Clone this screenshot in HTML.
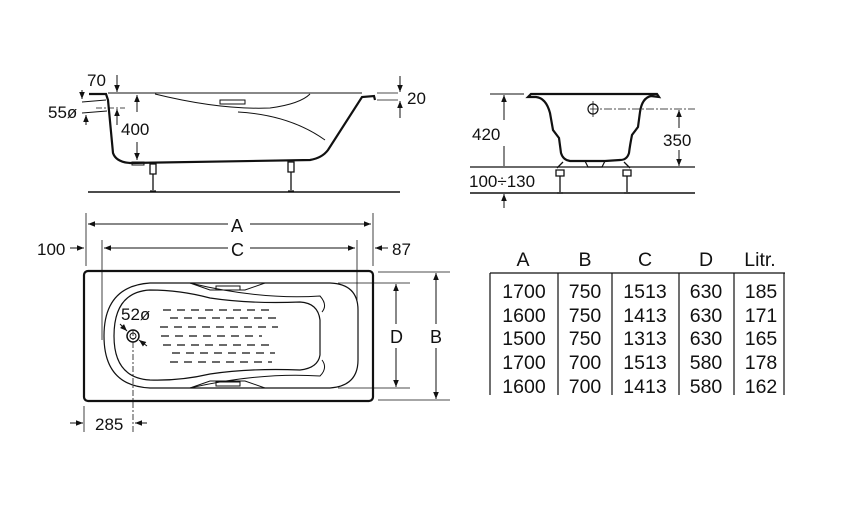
<!DOCTYPE html>
<html><head><meta charset="utf-8"><style>
html,body{margin:0;padding:0;background:#fff;width:850px;height:529px;overflow:hidden}
svg{display:block}
text{font-family:"Liberation Sans",sans-serif;fill:#111}
</style></head><body>
<svg width="850" height="529" viewBox="0 0 850 529" xmlns="http://www.w3.org/2000/svg">
<defs>
<marker id="ar" viewBox="0 0 10 10" refX="10" refY="5" markerWidth="9" markerHeight="7" orient="auto-start-reverse" markerUnits="userSpaceOnUse"><path d="M0,1 L10,5 L0,9 z" fill="#111"/></marker>
</defs>
<g stroke="#111" fill="none">
<!-- SIDE VIEW -->
<line x1="88" y1="192" x2="400" y2="192" stroke-width="1.5"/>
<line x1="108" y1="93" x2="362" y2="93" stroke-width="1"/>
<path d="M89,94 L106,94 L108,100 L113,153 Q116,162 130,163 L310,160 Q322,158 328,150 L362,97 L374,96 L375,100" stroke-width="2.2"/>
<path d="M155,94 Q220,110 270,108 Q300,104 310,94" stroke-width="1"/>
<path d="M238,112 Q290,115 325,140" stroke-width="1"/>
<rect x="220" y="100" width="25" height="4" stroke-width="1"/>
<line x1="82" y1="102" x2="106" y2="100" stroke-width="1"/>
<line x1="82" y1="113" x2="107" y2="111" stroke-width="1"/>
<line x1="96" y1="108" x2="125" y2="108" stroke-width="0.8" stroke-dasharray="6,2,2,2"/>
<rect x="132" y="162" width="12" height="3" stroke-width="1"/>
<path d="M150,164 h6 v10 h-6 z M153,174 v16 M150,191 h6" stroke-width="1.3"/>
<path d="M288,162 h6 v10 h-6 z M291,172 v18 M288,191 h6" stroke-width="1.3"/>
<line x1="117" y1="75" x2="117" y2="92" marker-end="url(#ar)"/>
<line x1="82" y1="90" x2="82" y2="99" marker-end="url(#ar)"/>
<line x1="86" y1="125" x2="86" y2="115" marker-end="url(#ar)"/>
<line x1="117" y1="125" x2="117" y2="109" marker-end="url(#ar)"/>
<line x1="137" y1="112" x2="137" y2="95" marker-end="url(#ar)"/>
<line x1="137" y1="142" x2="137" y2="160" marker-end="url(#ar)"/>
<line x1="377" y1="93" x2="398" y2="93" stroke-width="0.8"/>
<line x1="377" y1="100" x2="398" y2="100" stroke-width="0.8"/>
<line x1="400" y1="76" x2="400" y2="92" marker-end="url(#ar)"/>
<line x1="400" y1="118" x2="400" y2="101" marker-end="url(#ar)"/>

<!-- END VIEW -->
<line x1="490" y1="94" x2="524" y2="94" stroke-width="1"/>
<line x1="470" y1="167" x2="695" y2="167" stroke-width="1.2"/>
<line x1="470" y1="193" x2="695" y2="193" stroke-width="1.5"/>
<path d="M528,97 L531,94 L657,94 L659,97 L651,96 Q642,98 640,112 L638,127 L632,135 Q630,145 629,153 Q627,160 620,160 L605,161 L570,161 Q563,160 561,153 L559,138 L553,130 L550,113 Q546,98 536,97 Z" stroke-width="2.2"/>
<path d="M585,161 L588,167 L602,167 L605,161" stroke-width="1.2"/>
<line x1="590" y1="109" x2="695" y2="109" stroke-width="0.8" stroke-dasharray="8,2,2,2"/>
<circle cx="593" cy="109" r="5" stroke-width="1.2"/>
<line x1="593" y1="101" x2="593" y2="117" stroke-width="0.8"/>
<path d="M557,168 l6,-6 M556,170 h8 v6 h-8 z M560,176 v16 M557,193 h6" stroke-width="1.3"/>
<path d="M630,168 l-6,-6 M623,170 h8 v6 h-8 z M627,176 v16 M624,193 h6" stroke-width="1.3"/>
<line x1="504" y1="120" x2="504" y2="95" marker-end="url(#ar)"/>
<line x1="504" y1="146" x2="504" y2="166"/>
<line x1="504" y1="208" x2="504" y2="194" marker-end="url(#ar)"/>
<line x1="679" y1="128" x2="679" y2="110" marker-end="url(#ar)"/>
<line x1="679" y1="150" x2="679" y2="166" marker-end="url(#ar)"/>

<!-- PLAN VIEW -->
<rect x="84" y="271" width="289" height="130" rx="4" stroke-width="2.2"/>
<line x1="86" y1="213" x2="86" y2="266" stroke-width="0.8"/>
<line x1="373" y1="213" x2="373" y2="266" stroke-width="0.8"/>
<line x1="102" y1="240" x2="102" y2="340" stroke-width="0.8"/>
<line x1="357" y1="240" x2="357" y2="300" stroke-width="0.8"/>
<line x1="228" y1="224" x2="88" y2="224" marker-end="url(#ar)"/>
<line x1="250" y1="224" x2="371" y2="224" marker-end="url(#ar)"/>
<line x1="228" y1="248" x2="104" y2="248" marker-end="url(#ar)"/>
<line x1="250" y1="248" x2="355" y2="248" marker-end="url(#ar)"/>
<line x1="70" y1="248" x2="84" y2="248" marker-end="url(#ar)"/>
<line x1="388" y1="248" x2="375" y2="248" marker-end="url(#ar)"/>
<path d="M150,283 L330,283 Q358,284 358,310 L358,360 Q358,386 330,388 L150,388 Q104,386 104,336 Q104,286 150,283 Z" stroke-width="1.2"/>
<path d="M150,290 Q180,290 210,298 Q250,304 300,302 Q318,303 320,320 L320,355 Q318,368 300,370 Q250,368 210,374 Q180,381 150,380 Q114,378 114,336 Q114,292 150,290 Z" stroke-width="1.2"/>
<path d="M190,283 Q260,300 320,296 Q328,305 322,312 M190,388 Q260,372 320,376 Q328,368 322,360" stroke-width="1"/>
<path d="M190,283 L210,290 L245,290 L265,283 M190,388 L210,381 L245,381 L265,388" stroke-width="1"/>
<rect x="216" y="286" width="24" height="4" stroke-width="1"/>
<rect x="216" y="382" width="24" height="4" stroke-width="1"/>
<g stroke-width="1.2" stroke-dasharray="8,6">
<line x1="163" y1="310" x2="272" y2="310"/>
<line x1="170" y1="318" x2="278" y2="318"/>
<line x1="160" y1="327" x2="278" y2="327"/>
<line x1="161" y1="336" x2="262" y2="336"/>
<line x1="163" y1="345" x2="275" y2="345"/>
<line x1="172" y1="353" x2="275" y2="353"/>
<line x1="170" y1="362" x2="272" y2="362"/>
</g>
<circle cx="133" cy="336" r="6" stroke-width="1.5"/>
<circle cx="133" cy="336" r="3" stroke-width="1"/>
<line x1="120" y1="324" x2="127" y2="331" marker-end="url(#ar)"/>
<line x1="147" y1="346" x2="139" y2="340" marker-end="url(#ar)"/>
<line x1="133" y1="330" x2="133" y2="432" stroke-width="0.8" stroke-dasharray="6,2,2,2"/>
<line x1="84" y1="406" x2="84" y2="432" stroke-width="0.8"/>
<line x1="70" y1="423" x2="83" y2="423" marker-end="url(#ar)"/>
<line x1="147" y1="423" x2="135" y2="423" marker-end="url(#ar)"/>
<line x1="338" y1="283" x2="410" y2="283" stroke-width="0.8"/>
<line x1="338" y1="388" x2="410" y2="388" stroke-width="0.8"/>
<line x1="378" y1="272" x2="450" y2="272" stroke-width="0.8"/>
<line x1="378" y1="400" x2="450" y2="400" stroke-width="0.8"/>
<line x1="396" y1="324" x2="396" y2="284" marker-end="url(#ar)"/>
<line x1="396" y1="348" x2="396" y2="387" marker-end="url(#ar)"/>
<line x1="436" y1="324" x2="436" y2="273" marker-end="url(#ar)"/>
<line x1="436" y1="348" x2="436" y2="399" marker-end="url(#ar)"/>

<!-- TABLE -->
<line x1="490" y1="273" x2="785" y2="273" stroke-width="1.2"/>
<g stroke-width="1.2">
<line x1="490" y1="273" x2="490" y2="395"/>
<line x1="558" y1="273" x2="558" y2="395"/>
<line x1="612" y1="273" x2="612" y2="395"/>
<line x1="679" y1="273" x2="679" y2="395"/>
<line x1="734" y1="273" x2="734" y2="395"/>
<line x1="784" y1="273" x2="784" y2="395"/>
</g>
</g>
<g font-size="17">
<text x="87" y="86">70</text>
<text x="48" y="118">55ø</text>
<text x="121" y="135">400</text>
<text x="407" y="104">20</text>
<text x="472" y="140">420</text>
<text x="663" y="146">350</text>
<text x="469" y="187">100÷130</text>
<text x="37" y="255">100</text>
<text x="392" y="255">87</text>
<text x="231" y="232" font-size="18">A</text>
<text x="231" y="256" font-size="18">C</text>
<text x="390" y="343" font-size="18">D</text>
<text x="430" y="343" font-size="18">B</text>
<text x="121" y="320">52ø</text>
<text x="95" y="430">285</text>
</g>
<g font-size="19.5" text-anchor="middle" fill="#222">
<text x="523" y="266">A</text><text x="585" y="266">B</text><text x="645" y="266">C</text><text x="706" y="266">D</text><text x="760" y="266">Litr.</text>
<text x="524" y="298">1700</text><text x="585" y="298">750</text><text x="645" y="298">1513</text><text x="706" y="298">630</text><text x="761" y="298">185</text>
<text x="524" y="322">1600</text><text x="585" y="322">750</text><text x="645" y="322">1413</text><text x="706" y="322">630</text><text x="761" y="322">171</text>
<text x="524" y="345">1500</text><text x="585" y="345">750</text><text x="645" y="345">1313</text><text x="706" y="345">630</text><text x="761" y="345">165</text>
<text x="524" y="369">1700</text><text x="585" y="369">700</text><text x="645" y="369">1513</text><text x="706" y="369">580</text><text x="761" y="369">178</text>
<text x="524" y="393">1600</text><text x="585" y="393">700</text><text x="645" y="393">1413</text><text x="706" y="393">580</text><text x="761" y="393">162</text>
</g>
</svg>
</body></html>
